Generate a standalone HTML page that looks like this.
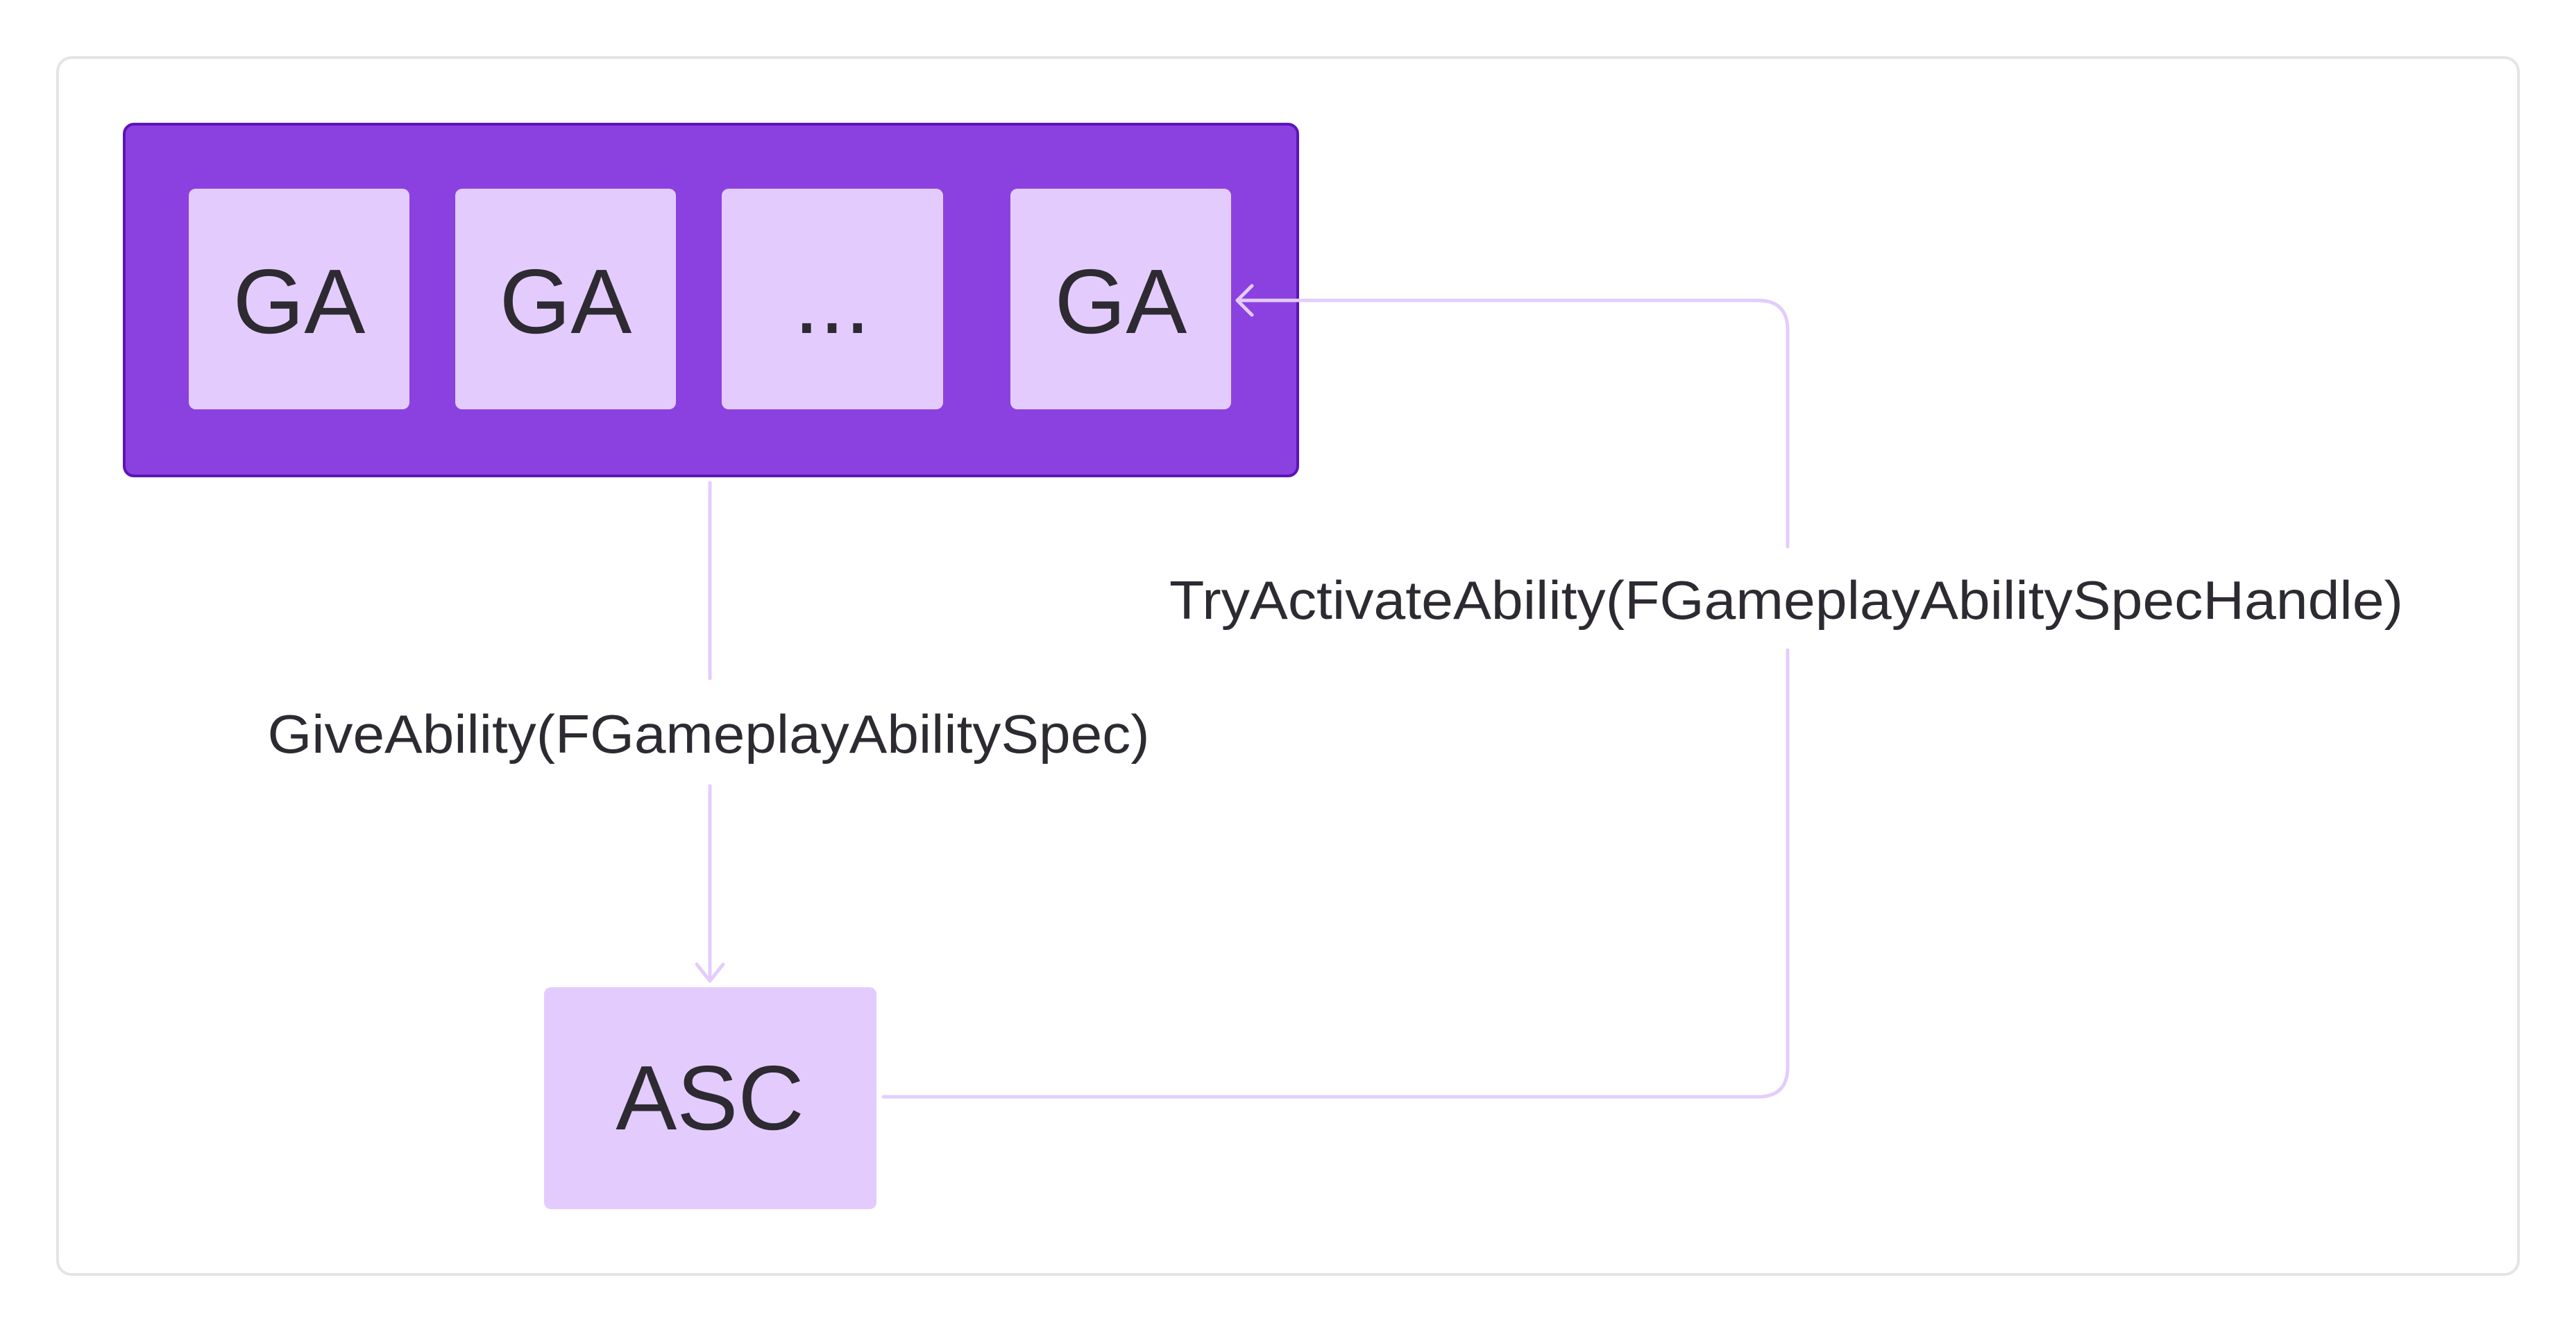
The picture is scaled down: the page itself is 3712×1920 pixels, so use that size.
<!DOCTYPE html>
<html><head><meta charset="utf-8"><style>
html,body{margin:0;padding:0;background:#fff;}
svg{display:block;}
text{font-family:"Liberation Sans",sans-serif;fill:#2d2a32;}
</style></head><body>
<svg width="3712" height="1920" viewBox="0 0 3712 1920" xmlns="http://www.w3.org/2000/svg">
<rect x="83" y="83" width="3546" height="1754" rx="20" fill="#fff" stroke="#e4e4e7" stroke-width="4"/>
<rect x="179" y="179" width="1691" height="507" rx="14" fill="#8b41e0" stroke="#5b14b8" stroke-width="4"/>
<g fill="#e3ccfd">
<rect x="272" y="272" width="318" height="318" rx="10"/>
<rect x="656" y="272" width="318" height="318" rx="10"/>
<rect x="1040" y="272" width="319" height="318" rx="10"/>
<rect x="1456" y="272" width="318" height="318" rx="10"/>
<rect x="784" y="1423" width="479" height="320" rx="10"/>
</g>
<g font-size="132" text-anchor="middle">
<text x="431" y="480">GA</text>
<text x="815" y="480">GA</text>
<text x="1199" y="480">...</text>
<text x="1615" y="480">GA</text>
<text x="1023" y="1628">ASC</text>
</g>
<g stroke="#e3ccfd" stroke-width="5" fill="none" stroke-linecap="round" stroke-linejoin="round">
<line x1="1023" y1="696" x2="1023" y2="978"/>
<line x1="1023" y1="1133" x2="1023" y2="1414"/>
<polyline points="1004,1390 1023,1414 1042,1390"/>
<path d="M1273 1581 H2533 Q2576 1581 2576 1538 V937"/>
<path d="M2576 788 V476 Q2576 433 2533 433 H1783"/>
<polyline points="1804,412 1783,433 1804,454"/>
</g>
<text x="1021" y="1085" font-size="78" text-anchor="middle" textLength="1271" lengthAdjust="spacingAndGlyphs">GiveAbility(FGameplayAbilitySpec)</text>
<text x="2574" y="892" font-size="78" text-anchor="middle" textLength="1778" lengthAdjust="spacingAndGlyphs">TryActivateAbility(FGameplayAbilitySpecHandle)</text>
</svg>
</body></html>
